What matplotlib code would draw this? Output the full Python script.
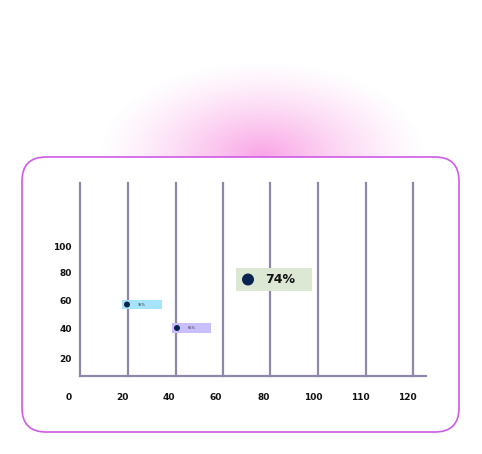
import matplotlib.pyplot as plt
import numpy as np
from matplotlib.patches import FancyBboxPatch, Rectangle, Circle

W, H = 482, 454
y_labels = ["100", "80", "60", "40", "20", "0"]
y_label_pos = [247, 273, 302, 330, 359, 397]
x_labels = ["20", "40", "60", "80", "100", "110", "120"]
x_label_pos = [122, 169, 216, 264, 313, 360, 407]
grid_x = [80, 128, 176, 223, 270, 318, 366, 413]
percent = "74%"

fig = plt.figure(figsize=(W / 100, H / 100), dpi=100)
ax = fig.add_axes([0, 0, 1, 1])
ax.set_xlim(0, W)
ax.set_ylim(H, 0)
ax.axis("off")

# pink glow
yy, xx = np.mgrid[0:H, 0:W]
d = np.sqrt(((xx - 262) / 165.0) ** 2 + ((yy - 155) / 95.0) ** 2)
alpha = np.clip(1 - d, 0, 1) ** 1.3 * 0.7
img = np.zeros((H, W, 4))
img[..., 0] = 0.97
img[..., 1] = 0.50
img[..., 2] = 0.86
img[..., 3] = alpha
ax.imshow(img, extent=(0, W, H, 0), zorder=0)

card = FancyBboxPatch((22, 157), 437, 275, boxstyle="round,pad=0,rounding_size=24",
                      fc="white", ec="#cf5be6", lw=1.2, zorder=1)
ax.add_patch(card)

for gx in grid_x:
    ax.plot([gx, gx], [183, 376], color="#8f86a8", lw=1.6, zorder=2)
ax.plot([80, 426], [376, 376], color="#8f86a8", lw=1.6, zorder=2)

for t, p in zip(y_labels, y_label_pos):
    ax.text(72, p, t, ha="right", va="center", fontsize=6.5, fontweight="bold", color="#111")
for t, p in zip(x_labels, x_label_pos):
    ax.text(p, 397, t, ha="center", va="center", fontsize=6.5, fontweight="bold", color="#111")

ax.add_patch(Rectangle((122, 300), 40, 9, fc="#a6e4fb", ec="none", zorder=3))
ax.add_patch(Circle((127, 304.5), 3, fc="#0b2350", zorder=4))
ax.text(138, 304.5, "95%", fontsize=2.5, va="center", color="#333", zorder=4)
ax.add_patch(Rectangle((172, 323), 39, 10, fc="#c9bfff", ec="none", zorder=3))
ax.add_patch(Circle((177, 328), 3, fc="#0b2350", zorder=4))
ax.text(188, 328, "65%", fontsize=2.5, va="center", color="#333", zorder=4)

ax.add_patch(Rectangle((236, 268), 76, 23, fc="#dce8d4", ec="none", zorder=3))
ax.add_patch(Circle((248, 279.5), 6, fc="#0b2350", zorder=4))
ax.text(265, 279.5, percent, fontsize=9, fontweight="bold", va="center", color="#111", zorder=4)

fig.savefig("out.png", dpi=100)
